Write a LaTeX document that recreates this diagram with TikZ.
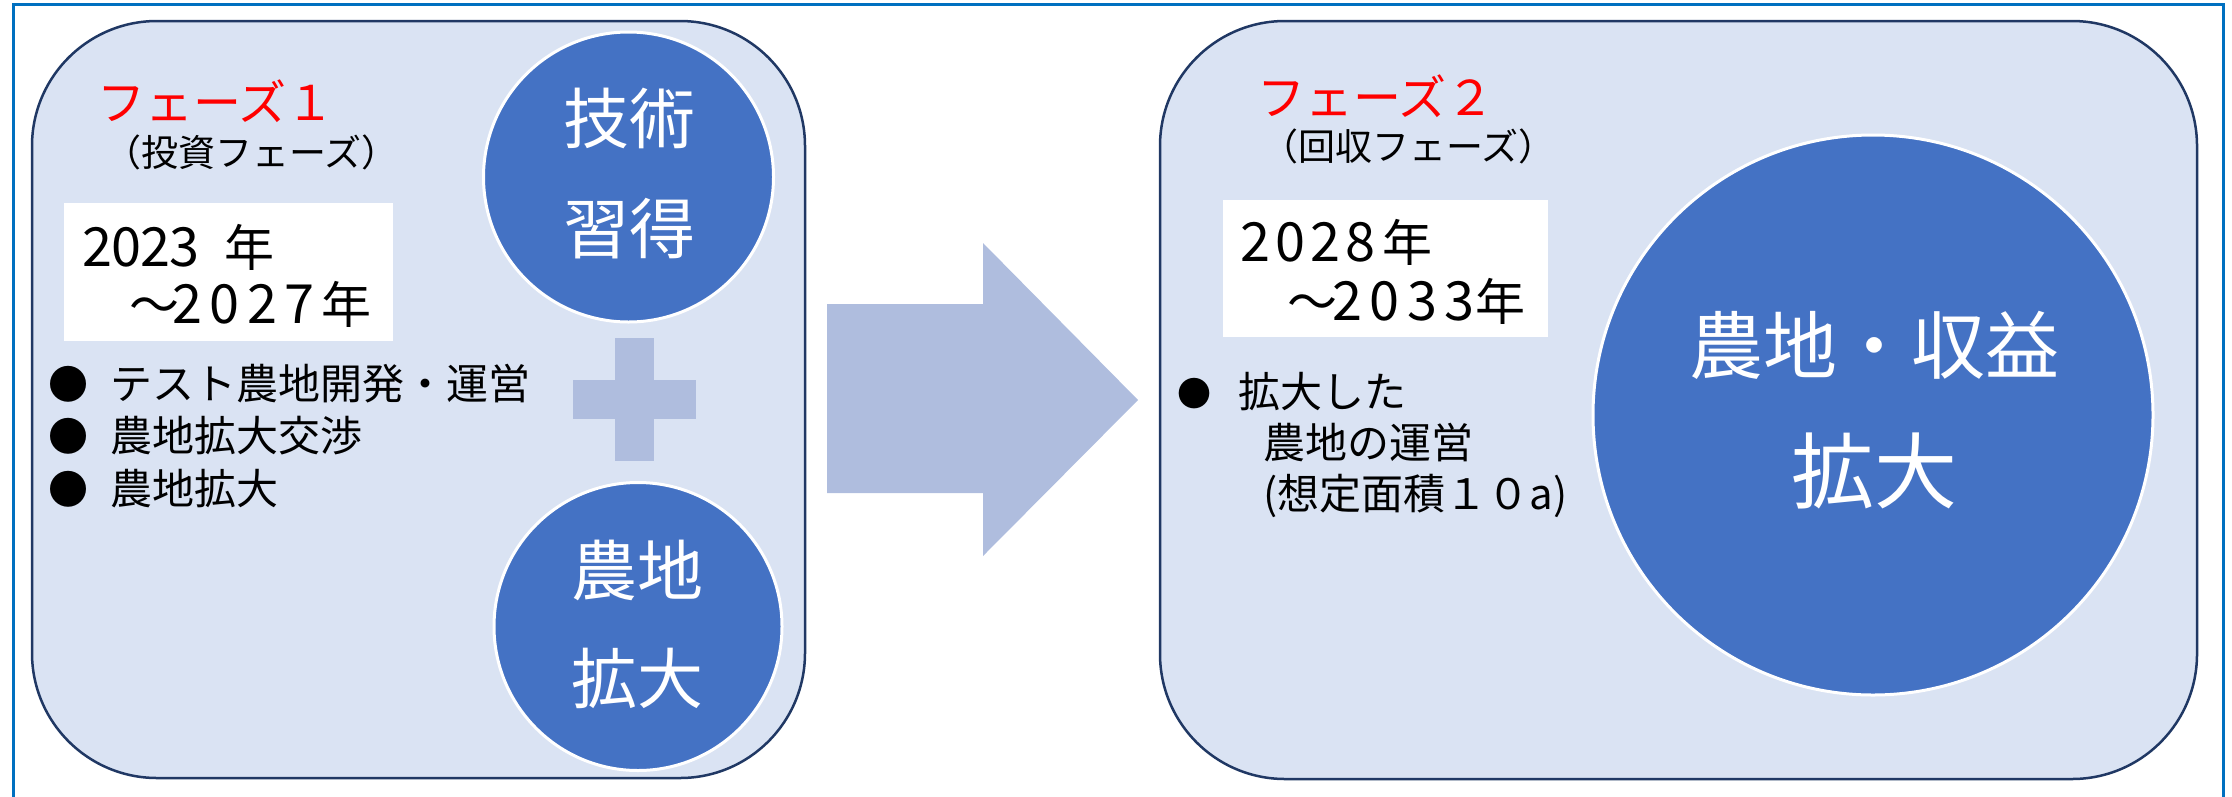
\documentclass[tikz,border=0pt]{standalone}
\usepackage{fontspec}
\setmainfont{Noto Sans CJK JP}
\definecolor{framec}{HTML}{0070C0}
\definecolor{navyc}{HTML}{203864}
\definecolor{boxfill}{HTML}{DAE3F3}
\definecolor{cblue}{HTML}{4472C4}
\definecolor{lightc}{HTML}{AFBDDE}
\definecolor{redc}{HTML}{FF0000}
\newcommand\fs[1]{\fontsize{#1}{#1}\selectfont}
\newcommand\nen{{\fs{50}年}}
\newcommand\yrlines[3]{\vtop{\baselineskip=#1\hbox{#2}\hbox{\kern47pt #3}}}
\begin{document}
\begin{tikzpicture}[x=1pt,y=-1pt,
  phasebox/.style={draw=navyc, line width=2.5pt, fill=boxfill, rounded corners=125pt, inner sep=0},
  circ/.style={circle, fill=cblue, draw=white, line width=3pt, inner sep=0},
  ctext/.style={text=white, inner sep=0, anchor=base},
  txt/.style={inner sep=0, anchor=base west},
  yeartxt/.style={txt, font=\fs{54}},
  yearbox/.style={fill=white, inner sep=0, anchor=north west},
  bul/.style={inner sep=0, anchor=base}]
\useasboundingbox (0,0) rectangle (2232,796);
% outer frame
\draw[framec, line width=3pt] (13,800) -- (13,4) -- (2223,4) -- (2223,800);

% phase boxes
\node[phasebox, minimum width=773pt, minimum height=757pt] (p1) at (418.5,399.5) {};
\node[phasebox, minimum width=1037pt, minimum height=758pt] (p2) at (1678.5,400) {};

% arrow
\fill[lightc] (827,304) -- (983,304) -- (983,243) -- (1138,400) -- (983,556) -- (983,493) -- (827,493) -- cycle;

% plus sign
\fill[lightc] (573,380) rectangle (696,419);
\fill[lightc] (615,338) rectangle (654,461);

% circles phase 1
\node[circ, minimum size=290pt] (c1) at (628.5,177) {};
\node[circ, minimum size=288pt] (c2) at (638,626.5) {};
\node[ctext, font=\fs{66}] (c1a) at (629.5,143) {技術};
\node[ctext, font=\fs{66}] (c1b) at (629.5,253) {習得};
\node[ctext, font=\fs{66}] (c2a) at (637.5,595) {農地};
\node[ctext, font=\fs{66}] (c2b) at (637.5,703) {拡大};

% big circle phase 2
\node[circ, minimum size=560pt] (c3) at (1873,415) {};
\node[ctext, font=\fs{74}] (c3a) at (1874.5,373) {農地・収益};
\node[ctext, font=\fs{83}] (c3b) at (1874,502) {拡大};

% titles
\node[txt, text=redc, font=\fs{48}] (t1) at (97,120) {フェーズ１};
\node[txt, font=\fs{37}] (s1) at (104,166) {（投資フェーズ）};
\node[txt, text=redc, font=\fs{48}] (t2) at (1257,115) {フェーズ２};
\node[txt, font=\fs{37}] (s2) at (1261,160) {（回収フェーズ）};

% year boxes
\node[yearbox, minimum width=329pt, minimum height=138pt] (yb1) at (64,203) {};
\node[yearbox, minimum width=325pt, minimum height=137pt] (yb2) at (1223,200) {};
\node[yeartxt] (y1) at (82,266) {\yrlines{57pt}
  {2\kern-1pt0\kern-1pt2\kern-1pt3\kern25pt\nen}
  {{\fs{50}～}\kern-7pt2\kern7.5pt0\kern7.5pt2\kern7.5pt7\kern7pt\nen}};
\node[yeartxt] (y2) at (1240,261) {\yrlines{59pt}
  {2\kern5pt0\kern5pt2\kern5pt8\kern7pt\nen}
  {{\fs{50}～}\kern-5pt2\kern7.5pt0\kern7.5pt3\kern7.5pt3\kern1pt\nen}};

% bullets phase 1
\node[bul, font=\fs{40}] (b1) at (68,399) {●};
\node[bul, font=\fs{40}] (b2) at (68,451) {●};
\node[bul, font=\fs{40}] (b3) at (68,504) {●};
\node[txt, font=\fs{42}] (l1) at (110,399) {テスト農地開発・運営};
\node[txt, font=\fs{42}] (l2) at (110,451) {農地拡大交渉};
\node[txt, font=\fs{42}] (l3) at (110,504) {農地拡大};

% bullets phase 2
\node[bul, font=\fs{34}] (b4) at (1194,406) {●};
\node[txt, font=\fs{42}] (m1) at (1238,407) {拡大した};
\node[txt, font=\fs{42}] (m2) at (1263,458) {農地の運営};
\node[txt, font=\fs{42}] (m3) at (1263,509) {(想定面積１０a)};
\end{tikzpicture}
\end{document}
